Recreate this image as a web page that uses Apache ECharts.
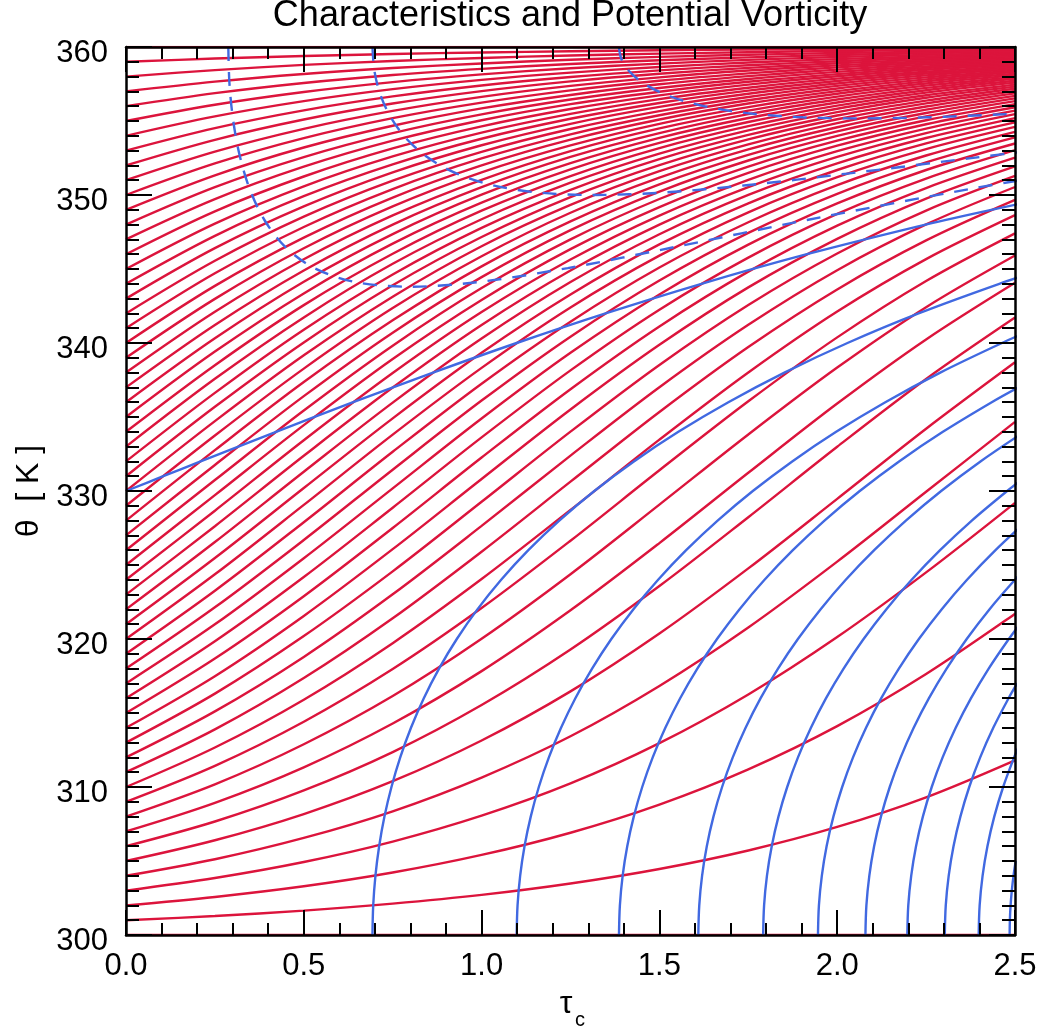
<!DOCTYPE html>
<html>
<head>
<meta charset="utf-8">
<title>Characteristics and Potential Vorticity</title>
<script src="https://cdn.jsdelivr.net/npm/echarts@6/dist/echarts.min.js"></script>
<style>
  html, body { margin: 0; padding: 0; background: #ffffff; }
  #chart { width: 1043px; height: 1032px; }
</style>
</head>
<body>
<div id="chart"></div>
<script>
// Sample positions along tau_c shared by every characteristic
const tauGrid = [0, 0.25, 0.5, 0.75, 1.0, 1.25, 1.5, 1.75, 2.0, 2.25, 2.5];

// Axis ticks
const tauTicks = [0.0, 0.5, 1.0, 1.5, 2.0, 2.5];
const thetaTicks = [300, 310, 320, 330, 340, 350, 360];

// Characteristics theta(tau_c) [K], one row per starting level (values at tauGrid)
const boundaryCharacteristics = [
  [300, 300, 300, 300, 300, 300, 300, 300, 300, 300, 300],
  [360, 360, 360, 360, 360, 360, 360, 360, 360, 360, 360]
];

const lowerCharacteristics = [
  [301, 301.28, 301.65, 302.12, 302.71, 303.48, 304.46, 305.71, 307.30, 309.30, 311.80],
  [302, 302.57, 303.29, 304.22, 305.41, 306.91, 308.81, 311.19, 314.11, 317.63, 321.70],
  [303, 303.85, 304.93, 306.31, 308.06, 310.24, 312.96, 316.25, 320.13, 324.50, 329.20],
  [304, 305.12, 306.56, 308.36, 310.64, 313.43, 316.83, 320.78, 325.23, 329.95, 334.67],
  [305, 306.40, 308.17, 310.39, 313.14, 316.46, 320.37, 324.77, 329.47, 334.21, 338.70],
  [306, 307.67, 309.77, 312.36, 315.54, 319.29, 323.58, 328.23, 332.99, 337.57, 341.72],
  [307, 308.93, 311.33, 314.29, 317.83, 321.94, 326.48, 331.23, 335.91, 340.24, 344.07],
  [308, 310.18, 312.89, 316.15, 320.02, 324.38, 329.08, 333.82, 338.34, 342.42, 345.91],
  [309, 311.43, 314.41, 317.97, 322.09, 326.64, 331.40, 336.06, 340.38, 344.19, 347.41],
  [310, 312.67, 315.90, 319.72, 324.05, 328.72, 333.47, 338.01, 342.13, 345.67, 348.64],
  [311, 313.89, 317.36, 321.40, 325.90, 330.63, 335.34, 339.73, 343.62, 346.93, 349.67],
  [312, 315.11, 318.79, 323.02, 327.64, 332.39, 337.01, 341.23, 344.92, 348.01, 350.54],
  [313, 316.31, 320.20, 324.57, 329.27, 334.01, 338.52, 342.57, 346.05, 348.95, 351.29],
  [314, 317.49, 321.56, 326.07, 330.81, 335.51, 339.88, 343.76, 347.04, 349.76, 351.94],
  [315, 318.68, 322.89, 327.50, 332.26, 336.88, 341.12, 344.82, 347.93, 350.47, 352.52],
  [316, 319.85, 324.19, 328.87, 333.62, 338.15, 342.25, 345.77, 348.72, 351.11, 353.03],
  [317, 320.99, 325.46, 330.18, 334.90, 339.34, 343.28, 346.65, 349.43, 351.69, 353.48],
  [318, 322.14, 326.69, 331.44, 336.11, 340.43, 344.22, 347.44, 350.08, 352.20, 353.89],
  [319, 323.26, 327.89, 332.65, 337.25, 341.44, 345.10, 348.16, 350.67, 352.67, 354.27],
  [320, 324.37, 329.06, 333.81, 338.32, 342.40, 345.90, 348.83, 351.20, 353.10, 354.60],
  [321, 325.47, 330.20, 334.91, 339.34, 343.28, 346.66, 349.44, 351.69, 353.49, 354.91],
  [322, 326.55, 331.30, 335.97, 340.30, 344.12, 347.35, 350.01, 352.14, 353.85, 355.19],
  [323, 327.62, 332.38, 336.99, 341.22, 344.90, 348.00, 350.53, 352.57, 354.18, 355.46],
  [324, 328.67, 333.43, 337.97, 342.09, 345.64, 348.61, 351.02, 352.96, 354.49, 355.70],
  [325, 329.72, 334.45, 338.92, 342.91, 346.34, 349.18, 351.49, 353.33, 354.78, 355.93],
  [326, 330.74, 335.44, 339.82, 343.71, 347.00, 349.73, 351.92, 353.67, 355.05, 356.14],
  [327, 331.76, 336.41, 340.70, 344.45, 347.63, 350.23, 352.33, 353.99, 355.31, 356.34],
  [328, 332.76, 337.36, 341.53, 345.18, 348.22, 350.72, 352.71, 354.30, 355.54, 356.53],
  [329, 333.75, 338.27, 342.36, 345.86, 348.80, 351.17, 353.08, 354.58, 355.77, 356.70],
  [330, 334.72, 339.17, 343.13, 346.54, 349.33, 351.61, 353.42, 354.86, 355.98, 356.87]
];

const upperCharacteristics = [
  [331, 335.69, 340.04, 343.90, 347.16, 349.86, 352.02, 353.76, 355.12, 356.19, 357.03],
  [332, 336.63, 340.90, 344.63, 347.78, 350.35, 352.43, 354.06, 355.37, 356.38, 357.18],
  [333, 337.58, 341.73, 345.35, 348.36, 350.83, 352.80, 354.37, 355.60, 356.57, 357.32],
  [334, 338.50, 342.56, 346.03, 348.94, 351.28, 353.17, 354.65, 355.83, 356.74, 357.46],
  [335, 339.42, 343.35, 346.71, 349.48, 351.73, 353.52, 354.93, 356.04, 356.92, 357.59],
  [336, 340.32, 344.14, 347.36, 350.02, 352.15, 353.86, 355.20, 356.25, 357.08, 357.72],
  [337, 341.22, 344.90, 348.00, 350.53, 352.57, 354.18, 355.46, 356.45, 357.24, 357.85],
  [338, 342.11, 345.66, 348.62, 351.03, 352.97, 354.50, 355.70, 356.65, 357.39, 357.96],
  [339, 342.98, 346.40, 349.23, 351.53, 353.35, 354.81, 355.94, 356.84, 357.53, 358.08],
  [340, 343.86, 347.12, 349.83, 352.00, 353.74, 355.10, 356.18, 357.02, 357.68, 358.19],
  [341, 344.71, 347.84, 350.40, 352.47, 354.10, 355.39, 356.40, 357.20, 357.81, 358.30],
  [342, 345.56, 348.54, 350.97, 352.92, 354.46, 355.67, 356.62, 357.37, 357.95, 358.40],
  [343, 346.41, 349.23, 351.53, 353.36, 354.81, 355.95, 356.84, 357.53, 358.08, 358.51],
  [344, 347.24, 349.92, 352.07, 353.80, 355.15, 356.22, 357.05, 357.70, 358.21, 358.60],
  [345, 348.07, 350.59, 352.61, 354.22, 355.48, 356.48, 357.25, 357.86, 358.33, 358.70],
  [346, 348.90, 351.25, 353.15, 354.64, 355.81, 356.73, 357.46, 358.02, 358.46, 358.80],
  [347, 349.72, 351.91, 353.67, 355.05, 356.14, 356.98, 357.65, 358.17, 358.58, 358.89],
  [348, 350.53, 352.56, 354.18, 355.45, 356.45, 357.23, 357.84, 358.32, 358.69, 358.98],
  [349, 351.33, 353.21, 354.68, 355.85, 356.76, 357.48, 358.03, 358.47, 358.81, 359.07],
  [350, 352.13, 353.84, 355.19, 356.24, 357.07, 357.72, 358.22, 358.62, 358.92, 359.16],
  [351, 352.93, 354.47, 355.68, 356.63, 357.37, 357.95, 358.41, 358.76, 359.03, 359.25],
  [352, 353.73, 355.10, 356.18, 357.02, 357.68, 358.19, 358.59, 358.90, 359.14, 359.33],
  [353, 354.52, 355.72, 356.66, 357.40, 357.97, 358.42, 358.77, 359.04, 359.25, 359.42],
  [354, 355.31, 356.34, 357.15, 357.78, 358.27, 358.65, 358.95, 359.18, 359.36, 359.50],
  [355, 356.10, 356.96, 357.63, 358.15, 358.56, 358.88, 359.13, 359.32, 359.47, 359.59],
  [356, 356.88, 357.57, 358.11, 358.52, 358.85, 359.10, 359.30, 359.46, 359.58, 359.67],
  [357, 357.66, 358.18, 358.58, 358.89, 359.14, 359.33, 359.48, 359.59, 359.68, 359.75],
  [358, 358.44, 358.79, 359.05, 359.26, 359.43, 359.55, 359.65, 359.73, 359.79, 359.84],
  [359, 359.22, 359.39, 359.53, 359.63, 359.71, 359.78, 359.83, 359.86, 359.89, 359.92]
];

// Potential vorticity contours, points as [tau_c, theta]
const pvSolidLevels = [1, 2, 3, 4, 5, 6, 7, 8, 9, 10, 11, 12];
const pvSolid = [
  [[0, 330], [0.1048, 331], [0.2098, 332], [0.4220, 334], [0.6389, 336], [0.8634, 338], [1.0986, 340],
   [1.3486, 342], [1.6183, 344], [1.9149, 346], [2.2484, 348], [2.4334, 349], [2.6339, 350]],
  [[0.6931, 300], [0.6952, 302], [0.7014, 304], [0.7119, 306], [0.7268, 308], [0.7465, 310], [0.7712, 312],
   [0.8014, 314], [0.8375, 316], [0.8803, 318], [0.9303, 320], [0.9882, 322], [1.0550, 324], [1.1314, 326],
   [1.2184, 328], [1.3170, 330], [1.4282, 332], [1.5534, 334], [1.6939, 336], [1.8516, 338], [2.0289, 340],
   [2.2288, 342], [2.4559, 344], [2.5814, 345]],
  [[1.0986, 300], [1.1011, 302], [1.1084, 304], [1.1207, 306], [1.1382, 308], [1.1609, 310], [1.1892, 312],
   [1.2234, 314], [1.2637, 316], [1.3107, 318], [1.3648, 320], [1.4265, 322], [1.4964, 324], [1.5752, 326],
   [1.6637, 328], [1.7627, 330], [1.8735, 332], [1.9971, 334], [2.1353, 336], [2.2898, 338], [2.4634, 340],
   [2.5583, 341]],
  [[1.3863, 300], [1.3889, 302], [1.3966, 304], [1.4096, 306], [1.4279, 308], [1.4517, 310], [1.4812, 312],
   [1.5167, 314], [1.5584, 316], [1.6067, 318], [1.6620, 320], [1.7249, 322], [1.7957, 324], [1.8753, 326],
   [1.9642, 328], [2.0634, 330], [2.1740, 332], [2.2972, 334], [2.4346, 336], [2.5093, 337]],
  [[1.6094, 300], [1.6121, 302], [1.6200, 304], [1.6333, 306], [1.6520, 308], [1.6763, 310], [1.7063, 312],
   [1.7424, 314], [1.7847, 316], [1.8336, 318], [1.8895, 320], [1.9529, 322], [2.0241, 324], [2.1040, 326],
   [2.1931, 328], [2.2924, 330], [2.4029, 332], [2.5260, 334]],
  [[1.7918, 300], [1.7944, 302], [1.8024, 304], [1.8159, 306], [1.8348, 308], [1.8594, 310], [1.8897, 312],
   [1.9261, 314], [1.9687, 316], [2.0180, 318], [2.0742, 320], [2.1378, 322], [2.2093, 324], [2.2893, 326],
   [2.3785, 328], [2.4779, 330], [2.5317, 331]],
  [[1.9459, 300], [1.9486, 302], [1.9567, 304], [1.9702, 306], [1.9893, 308], [2.0140, 310], [2.0445, 312],
   [2.0811, 314], [2.1239, 316], [2.1734, 318], [2.2297, 320], [2.2935, 322], [2.3651, 324], [2.4452, 326],
   [2.5346, 328]],
  [[2.0794, 300], [2.0821, 302], [2.0903, 304], [2.1038, 306], [2.1230, 308], [2.1478, 310], [2.1785, 312],
   [2.2151, 314], [2.2581, 316], [2.3077, 318], [2.3642, 320], [2.4280, 322], [2.4998, 324], [2.5388, 325]],
  [[2.1972, 300], [2.1999, 302], [2.2081, 304], [2.2217, 306], [2.2409, 308], [2.2658, 310], [2.2965, 312],
   [2.3333, 314], [2.3764, 316], [2.4260, 318], [2.4826, 320], [2.5136, 321]],
  [[2.3026, 300], [2.3053, 302], [2.3135, 304], [2.3271, 306], [2.3464, 308], [2.3713, 310], [2.4021, 312],
   [2.4389, 314], [2.4820, 316], [2.5061, 317]],
  [[2.3979, 300], [2.4006, 302], [2.4088, 304], [2.4225, 306], [2.4417, 308], [2.4667, 310], [2.4975, 312],
   [2.5152, 313]],
  [[2.4849, 300], [2.4856, 301], [2.4876, 302], [2.4910, 303], [2.4958, 304], [2.5020, 305]]
];

const pvDashedLevels = [0.75, 0.5, 0.25];
const pvDashed = [
  [[0.2877, 360], [0.2910, 357.506], [0.3014, 355.045], [0.3198, 352.659], [0.3481, 350.393], [0.3893, 348.311],
   [0.4477, 346.498], [0.5297, 345.063], [0.6429, 344.129], [0.7954, 343.803], [0.9937, 344.129], [1.2424, 345.063],
   [1.5463, 346.498], [1.9151, 348.311], [2.3695, 350.393], [2.6411, 351.507]],
  [[0.6931, 360], [0.6989, 358.340], [0.7163, 356.718], [0.7465, 355.174], [0.7907, 353.751], [0.8511, 352.493],
   [0.9303, 351.447], [1.0317, 350.659], [1.1592, 350.167], [1.3170, 350.000], [1.5101, 350.167], [1.7445, 350.659],
   [2.0289, 351.447], [2.3769, 352.493], [2.5814, 353.098]],
  [[1.3863, 360], [1.3934, 359.171], [1.4151, 358.365], [1.4517, 357.606], [1.5042, 356.918], [1.5738, 356.320],
   [1.6620, 355.832], [1.7711, 355.471], [1.9038, 355.249], [2.0634, 355.174], [2.2546, 355.249], [2.4839, 355.471],
   [2.6156, 355.635]]
];

const RED = '#DC143C';
const BLUE = '#4169E1';
const FONT = '"Liberation Sans", Arial, Helvetica, sans-serif';
const LINE_W = 2.4;

const series = [];

[...boundaryCharacteristics, ...lowerCharacteristics, ...upperCharacteristics].forEach((row, i) => {
  series.push({
    name: 'characteristic ' + i,
    type: 'line',
    xAxisIndex: 0,
    yAxisIndex: 0,
    data: row.map((theta, k) => [tauGrid[k], theta]),
    smooth: 0.33,
    symbol: 'none',
    silent: true,
    animation: false,
    clip: true,
    z: 2,
    lineStyle: { color: RED, width: LINE_W }
  });
});

pvSolid.forEach((pts, i) => {
  series.push({
    name: 'PV ' + pvSolidLevels[i],
    type: 'line',
    xAxisIndex: 0,
    yAxisIndex: 0,
    data: pts,
    smooth: 0.33,
    symbol: 'none',
    silent: true,
    animation: false,
    clip: true,
    z: 3,
    lineStyle: { color: BLUE, width: LINE_W }
  });
});

pvDashed.forEach((pts, i) => {
  series.push({
    name: 'PV ' + pvDashedLevels[i],
    type: 'line',
    xAxisIndex: 0,
    yAxisIndex: 0,
    data: pts,
    smooth: 0.33,
    symbol: 'none',
    silent: true,
    animation: false,
    clip: true,
    z: 3,
    lineStyle: { color: BLUE, width: LINE_W, type: [14, 11] }
  });
});

const tauMin = tauTicks[0], tauMax = tauTicks[tauTicks.length - 1];
const thetaMin = thetaTicks[0], thetaMax = thetaTicks[thetaTicks.length - 1];
const tauStep = tauTicks[1] - tauTicks[0];
const thetaStep = thetaTicks[1] - thetaTicks[0];

function xAxisDef(position, showLabels) {
  return {
    type: 'value',
    position: position,
    min: tauMin,
    max: tauMax,
    interval: tauStep,
    z: 5,
    axisLine: { show: true, onZero: false, lineStyle: { color: '#000', width: 2.5 } },
    axisTick: { show: true, inside: true, length: 25, lineStyle: { color: '#000', width: 2 } },
    minorTick: { show: true, splitNumber: 5, length: 12, lineStyle: { color: '#000', width: 2 } },
    splitLine: { show: false },
    minorSplitLine: { show: false },
    axisLabel: {
      show: showLabels,
      margin: 16,
      color: '#000',
      fontSize: 31,
      fontFamily: FONT,
      formatter: v => v.toFixed(1)
    }
  };
}

function yAxisDef(position, showLabels) {
  const ax = {
    type: 'value',
    position: position,
    min: thetaMin,
    max: thetaMax,
    interval: thetaStep,
    z: 5,
    axisLine: { show: true, onZero: false, lineStyle: { color: '#000', width: 2.5 } },
    axisTick: { show: true, inside: true, length: 26, lineStyle: { color: '#000', width: 2 } },
    minorTick: { show: true, splitNumber: 10, length: 13, lineStyle: { color: '#000', width: 2 } },
    splitLine: { show: false },
    minorSplitLine: { show: false },
    axisLabel: {
      show: showLabels,
      margin: 18,
      color: '#000',
      fontSize: 31,
      fontFamily: FONT,
      verticalAlign: 'top',
      lineHeight: 12
    }
  };
  if (showLabels) {
    ax.name = 'θ  [ K ]';
    ax.nameLocation = 'middle';
    ax.nameRotate = 90;
    ax.nameGap = 76;
    ax.nameTextStyle = { color: '#000', fontSize: 32, fontFamily: FONT };
  }
  return ax;
}

const chart = echarts.init(document.getElementById('chart'), null, { renderer: 'canvas' });
chart.setOption({
  animation: false,
  backgroundColor: '#ffffff',
  grid: { left: 126, right: 28, top: 47, bottom: 97, containLabel: false },
  xAxis: [xAxisDef('bottom', true), xAxisDef('top', false)],
  yAxis: [yAxisDef('left', true), yAxisDef('right', false)],
  series: series,
  graphic: [
    {
      type: 'text', x: 570, y: 16, silent: true,
      style: { text: 'Characteristics and Potential Vorticity', font: '36px ' + FONT, fill: '#000',
               textAlign: 'center', textVerticalAlign: 'middle' }
    },
    {
      type: 'text', x: 566, y: 1004, silent: true,
      style: { text: 'τ', font: '32px ' + FONT, fill: '#000', textAlign: 'center', textVerticalAlign: 'middle' }
    },
    {
      type: 'text', x: 575, y: 1020, silent: true,
      style: { text: 'c', font: '20px ' + FONT, fill: '#000', textAlign: 'left', textVerticalAlign: 'middle' }
    }
  ]
});
</script>
</body>
</html>
